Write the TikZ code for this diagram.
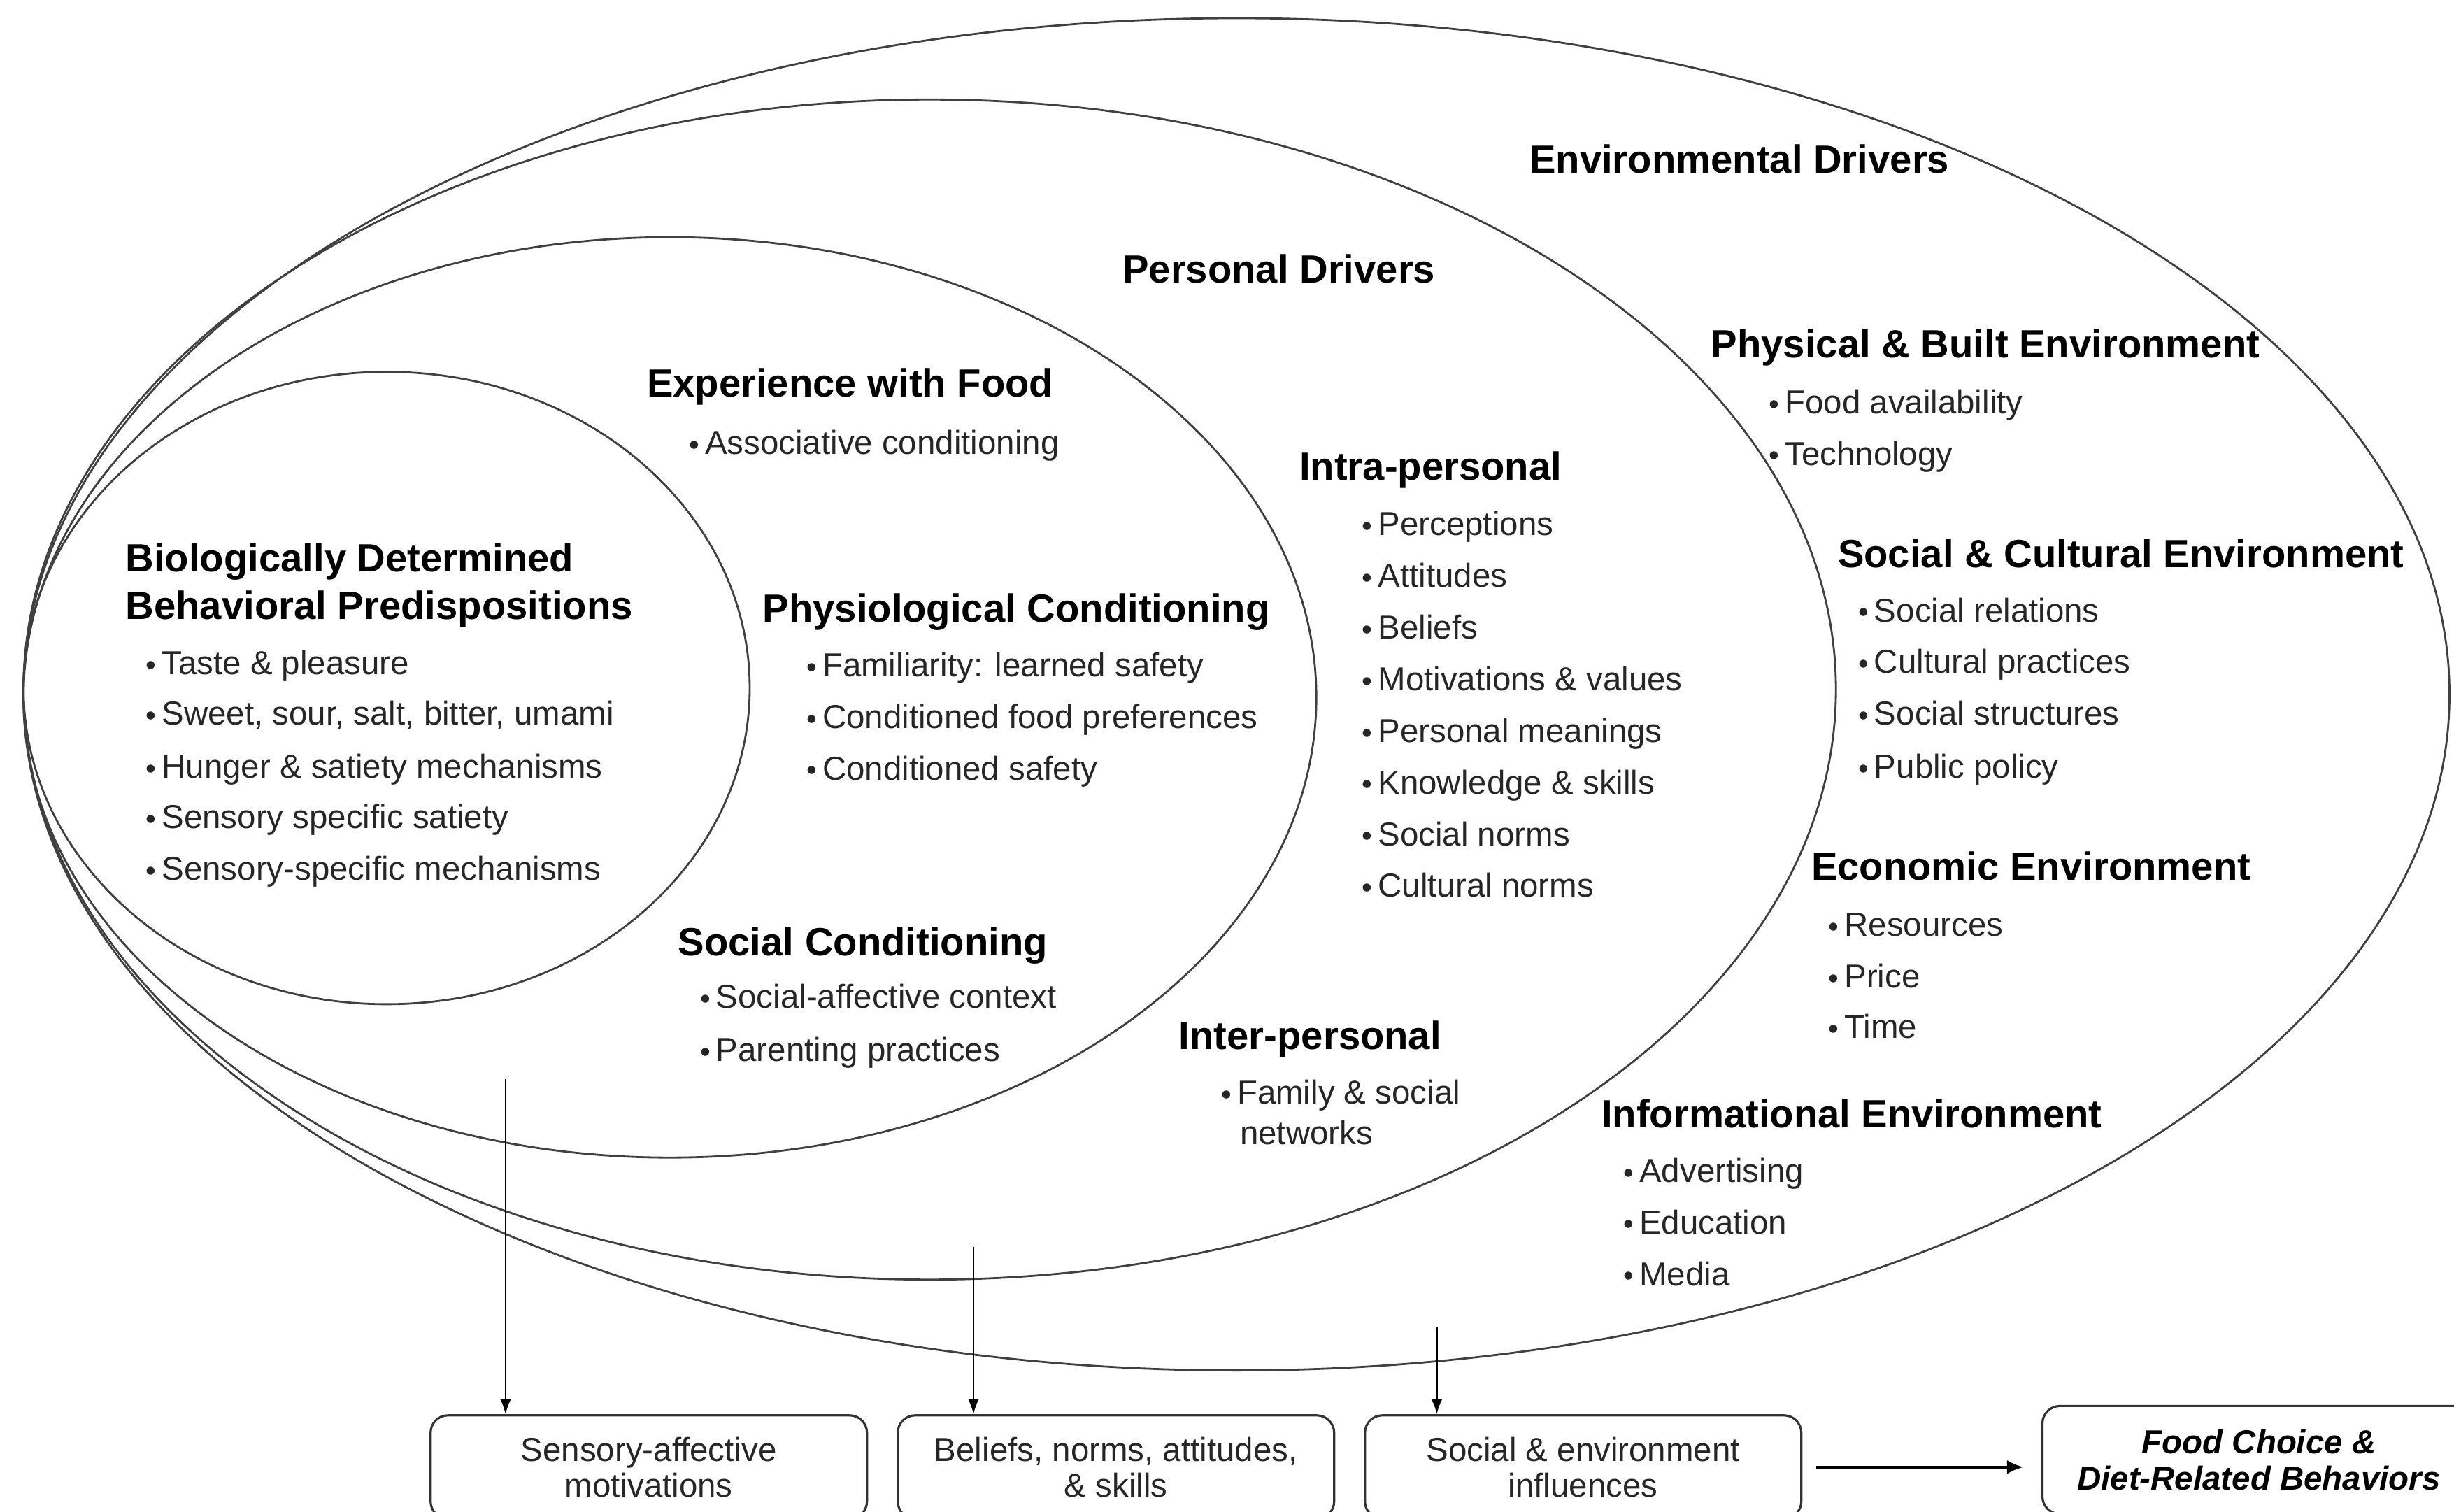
\documentclass[tikz,border=0pt]{standalone}
\usepackage{fontspec}
\setmainfont{Liberation Sans}
\usepackage{tikz}
\usetikzlibrary{arrows.meta}

\newcommand{\headfont}{\fontsize{16}{19}\selectfont\bfseries}
\newcommand{\itemfont}{\fontsize{13.5}{16}\selectfont}
\newcommand{\boxfont}{\fontsize{13.5}{14.6}\selectfont}
\newcommand{\dotmark}{\raisebox{-0.2pt}{\fontsize{12}{12}\selectfont\textbullet}\hspace{0.08cm}}

\tikzset{
  ring/.style={draw=black!75, line width=0.8pt},
  head/.style={font=\headfont, anchor=base west, inner sep=0pt},
  entry/.style={font=\itemfont, text=black!85, anchor=base west, inner sep=0pt},
  outbox/.style={draw=black!80, line width=0.9pt, rounded corners=0.25cm,
                 minimum width=6.24cm, minimum height=1.48cm, inner sep=0pt,
                 align=center, anchor=north, font=\boxfont, text=black!85},
  flow/.style={-{Latex[length=0.22cm,width=0.16cm]}, line width=0.6pt},
  bigflow/.style={-{Latex[length=0.24cm,width=0.2cm]}, line width=1.3pt}
}

\begin{document}
\begin{tikzpicture}
\useasboundingbox (0,0) rectangle (35.09,21.61);

% nested drivers
\draw[ring] (17.680, 11.682) ellipse (17.345 and 9.668);
\draw[ring] (13.294, 11.750) ellipse (12.958 and 8.437);
\draw[ring] (9.579, 11.638) ellipse (9.243 and 6.580);
\draw[ring] (5.528, 11.772) ellipse (5.192 and 4.521);

% outer labels
\draw (21.865, 19.130) node[head] (env) {Environmental Drivers};
\draw (16.046, 17.565) node[head] (pers) {Personal Drivers};

% biological
\draw (1.790, 13.430) node[head] (bio) {Biologically Determined};
\draw (1.790, 12.759) node[head] (bio2) {Behavioral Predispositions};
\draw (2.081, 11.960) node[entry] (bio-a) {\dotmark Taste \& pleasure};
\draw (2.081, 11.240) node[entry] (bio-b) {\dotmark Sweet, sour, salt, bitter, umami};
\draw (2.081, 10.480) node[entry] (bio-c) {\dotmark Hunger \& satiety mechanisms};
\draw (2.081, 9.765) node[entry] (bio-d) {\dotmark Sensory specific satiety};
\draw (2.081, 9.025) node[entry] (bio-e) {\dotmark Sensory-specific mechanisms};

% experience
\draw (9.243, 15.930) node[head] (exp) {Experience with Food};
\draw (9.847, 15.110) node[entry] (exp-a) {\dotmark Associative conditioning};
\draw (10.899, 12.710) node[head] (phys) {Physiological Conditioning};
\draw (11.526, 11.935) node[entry] (phys-a) {\dotmark Familiarity: learned safety};
\draw (11.526, 11.195) node[entry] (phys-b) {\dotmark Conditioned food preferences};
\draw (11.526, 10.458) node[entry] (phys-c) {\dotmark Conditioned safety};
\draw (9.691, 7.945) node[head] (soc) {Social Conditioning};
\draw (10.004, 7.190) node[entry] (soc-a) {\dotmark Social-affective context};
\draw (10.004, 6.430) node[entry] (soc-b) {\dotmark Parenting practices};

% personal
\draw (18.575, 14.748) node[head] (intra) {Intra-personal};
\draw (19.471, 13.950) node[entry] (intra-a) {\dotmark Perceptions};
\draw (19.471, 13.211) node[entry] (intra-b) {\dotmark Attitudes};
\draw (19.471, 12.473) node[entry] (intra-c) {\dotmark Beliefs};
\draw (19.471, 11.734) node[entry] (intra-d) {\dotmark Motivations \& values};
\draw (19.471, 10.996) node[entry] (intra-e) {\dotmark Personal meanings};
\draw (19.471, 10.257) node[entry] (intra-f) {\dotmark Knowledge \& skills};
\draw (19.471, 9.519) node[entry] (intra-g) {\dotmark Social norms};
\draw (19.471, 8.780) node[entry] (intra-h) {\dotmark Cultural norms};
\draw (16.852, 6.600) node[head] (inter) {Inter-personal};
\draw (17.456, 5.826) node[entry] (inter-a) {\dotmark Family \& social};
\draw (17.725, 5.244) node[entry] (inter-b) {networks};

% environmental
\draw (24.461, 16.490) node[head] (built) {Physical \& Built Environment};
\draw (25.289, 15.696) node[entry] (built-a) {\dotmark Food availability};
\draw (25.289, 14.957) node[entry] (built-b) {\dotmark Technology};
\draw (26.274, 13.495) node[head] (cult) {Social \& Cultural Environment};
\draw (26.565, 12.719) node[entry] (cult-a) {\dotmark Social relations};
\draw (26.565, 11.981) node[entry] (cult-b) {\dotmark Cultural practices};
\draw (26.565, 11.242) node[entry] (cult-c) {\dotmark Social structures};
\draw (26.565, 10.481) node[entry] (cult-d) {\dotmark Public policy};
\draw (25.894, 9.020) node[head] (econ) {Economic Environment};
\draw (26.140, 8.221) node[entry] (econ-a) {\dotmark Resources};
\draw (26.140, 7.482) node[entry] (econ-b) {\dotmark Price};
\draw (26.140, 6.766) node[entry] (econ-c) {\dotmark Time};
\draw (22.895, 5.482) node[head] (info) {Informational Environment};
\draw (23.208, 4.707) node[entry] (info-a) {\dotmark Advertising};
\draw (23.208, 3.969) node[entry] (info-b) {\dotmark Education};
\draw (23.208, 3.230) node[entry] (info-c) {\dotmark Media};

% outcome boxes
\draw (9.277, 1.388) node[outbox] (sensory) {Sensory-affective\\motivations};
\draw (15.957, 1.388) node[outbox] (beliefs) {Beliefs, norms, attitudes,\\\& skills};
\draw (22.637, 1.388) node[outbox] (influence) {Social \& environment\\influences};
\draw (32.300, 1.522) node[outbox, minimum width=6.19cm, minimum height=1.544cm,
  font=\boxfont\bfseries\itshape, text=black] (choice) {Food Choice \&\\Diet-Related Behaviors};

\coordinate (from-bio) at (7.229, 6.177);
\coordinate (from-pers) at (13.920, 3.782);
\coordinate (from-env) at (20.545, 2.641);
\draw[flow] (from-bio) -- (from-bio |- sensory.north);
\draw[flow] (from-pers) -- (from-pers |- beliefs.north);
\draw[flow] (from-env) -- (from-env |- influence.north);
\draw[bigflow, shorten <=0.2cm, shorten >=0.25cm] (influence.east) -- (influence.east -| choice.west);
\end{tikzpicture}
\end{document}
